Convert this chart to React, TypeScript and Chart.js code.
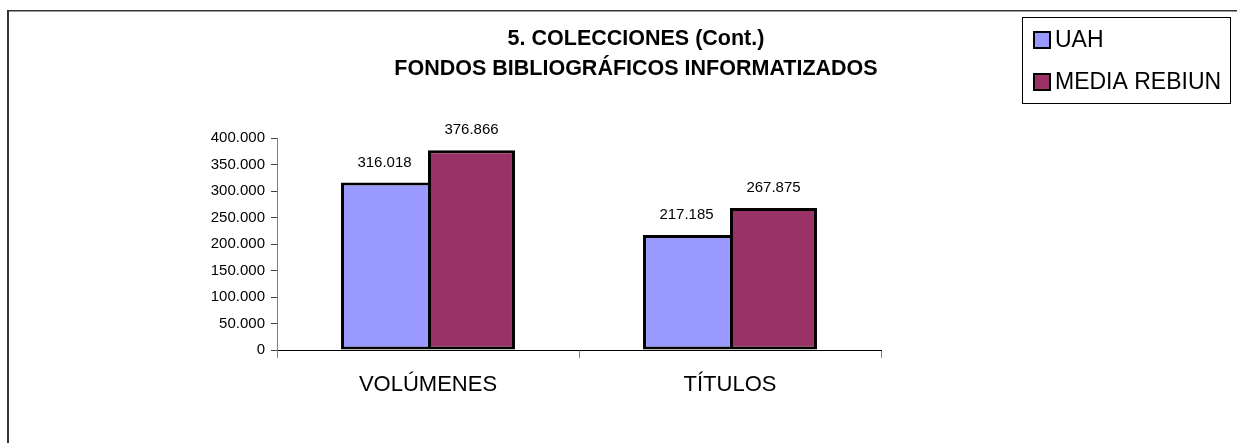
import React, { useEffect, useRef } from "react";
import { Chart, registerables } from "chart.js";

Chart.register(...registerables);

const categories = ["VOLÚMENES", "TÍTULOS"];
const seriesNames = ["UAH", "MEDIA REBIUN"];
const uahValues = [316018, 217185];
const rebiunValues = [376866, 267875];
const yTicks = [0, 50000, 100000, 150000, 200000, 250000, 300000, 350000, 400000];
const titleLines = ["5. COLECCIONES (Cont.)", "FONDOS BIBLIOGRÁFICOS INFORMATIZADOS"];

const FONT = "Arial, 'Liberation Sans', sans-serif";

const fmt = (v: number) => String(Math.round(v)).replace(/\B(?=(\d{3})+(?!\d))/g, ".");

const W = 1237;
const H = 443;

const decorPlugin = {
  id: "decor",
  beforeDraw(chart: any) {
    const ctx = chart.ctx;
    ctx.save();
    ctx.fillStyle = "#ffffff";
    ctx.fillRect(0, 0, W, H);
    // outer frame (top and left edges visible)
    ctx.fillStyle = "#333333";
    ctx.fillRect(7, 10, W - 7, 1.5);
    ctx.fillRect(7, 10, 2, H - 10);
    ctx.restore();
  },
  afterDraw(chart: any) {
    const ctx = chart.ctx;
    ctx.save();
    // title
    ctx.fillStyle = "#000";
    ctx.font = `bold 21.5px ${FONT}`;
    ctx.textAlign = "center";
    ctx.textBaseline = "middle";
    ctx.fillText(titleLines[0], 636, 39);
    ctx.fillText(titleLines[1], 636, 69);

    // legend
    ctx.strokeStyle = "#000";
    ctx.lineWidth = 1;
    ctx.strokeRect(1022.5, 17.5, 208, 86);
    ctx.font = `23px ${FONT}`;
    ctx.textAlign = "left";
    const rowsY = [40, 82];
    chart.data.datasets.forEach((ds: any, i: number) => {
      const cy = rowsY[i];
      ctx.fillStyle = ds.backgroundColor;
      ctx.fillRect(1034, cy - 8, 16, 16);
      ctx.lineWidth = 2;
      ctx.strokeStyle = "#000";
      ctx.strokeRect(1034, cy - 8, 16, 16);
      ctx.fillStyle = "#000";
      ctx.fillText(ds.label, 1055, cy + 1);
    });

    // data labels
    ctx.font = `15px ${FONT}`;
    ctx.textAlign = "center";
    ctx.textBaseline = "middle";
    ctx.fillStyle = "#000";
    chart.data.datasets.forEach((ds: any, di: number) => {
      const meta = chart.getDatasetMeta(di);
      meta.data.forEach((bar: any, i: number) => {
        ctx.fillText(fmt(ds.data[i]), bar.x, bar.y - 20);
      });
    });
    ctx.restore();
  },
};

export default function App() {
  const ref = useRef<HTMLCanvasElement>(null);

  useEffect(() => {
    if (!ref.current) return;
    const chart = new Chart(ref.current, {
      type: "bar",
      data: {
        labels: categories,
        datasets: [
          {
            label: seriesNames[0],
            data: uahValues,
            backgroundColor: "#9999FF",
            borderColor: "#000000",
            borderWidth: { left: 3, top: 3, right: 0, bottom: 3 },
            borderSkipped: false,
          },
          {
            label: seriesNames[1],
            data: rebiunValues,
            backgroundColor: "#993366",
            borderColor: "#000000",
            borderWidth: 3,
            borderSkipped: false,
          },
        ],
      },
      options: {
        responsive: false,
        animation: false,
        events: [],
        layout: { padding: { left: 0, top: 138, right: W - 881, bottom: 0 } },
        datasets: {
          bar: { categoryPercentage: 0.576, barPercentage: 1.0 },
        },
        plugins: {
          legend: { display: false },
          title: { display: false },
          tooltip: { enabled: false },
        },
        scales: {
          x: {
            offset: true,
            grid: {
              offset: true,
              drawOnChartArea: false,
              drawTicks: true,
              tickLength: 8,
              color: "#808080",
            },
            border: { display: true, color: "#000000", width: 1 },
            ticks: {
              color: "#000",
              font: { family: FONT, size: 22 },
              padding: 14,
              maxRotation: 0,
            },
            afterFit(scale: any) {
              scale.height = 93;
            },
          },
          y: {
            min: 0,
            max: 400000,
            afterBuildTicks(scale: any) {
              scale.ticks = yTicks.map((v) => ({ value: v }));
            },
            grid: {
              drawOnChartArea: false,
              drawTicks: true,
              tickLength: 6,
              color: "#404040",
            },
            border: { display: true, color: "#808080", width: 1 },
            ticks: {
              color: "#000",
              font: { family: FONT, size: 15 },
              padding: 6,
              callback: (v: any) => fmt(Number(v)),
            },
            afterFit(scale: any) {
              scale.width = 277;
            },
          },
        },
      },
      plugins: [decorPlugin],
    });
    return () => chart.destroy();
  }, []);

  return (
    <div style={{ position: "fixed", left: 0, top: 0, width: W, height: H }}>
      <canvas ref={ref} width={W} height={H} style={{ display: "block", width: W, height: H }} />
    </div>
  );
}
